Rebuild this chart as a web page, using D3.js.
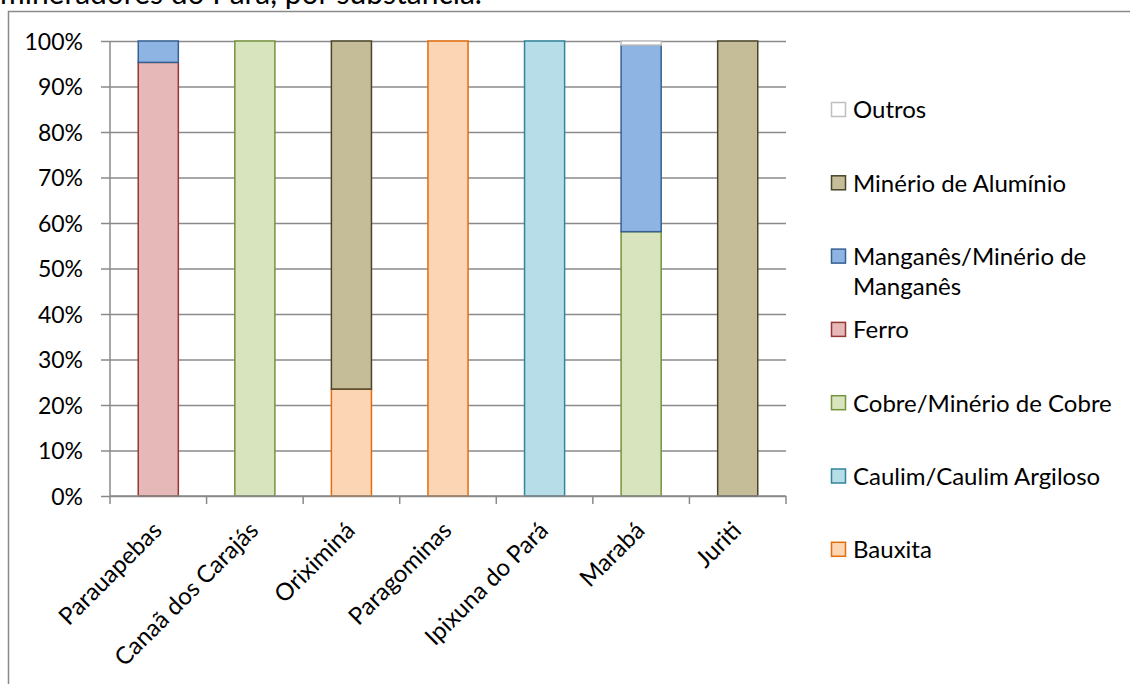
<!DOCTYPE html>
<html>
<head>
<meta charset="utf-8">
<script src="https://cdn.jsdelivr.net/npm/d3@7"></script>
<style>
  html, body { margin: 0; padding: 0; background: #ffffff; }
  svg { display: block; font-family: Lato, "Open Sans", sans-serif; }
</style>
</head>
<body>
<svg id="chart" width="1130" height="684"></svg>
<script>
// Municipalities (x categories)
const municipios = ["Parauapebas", "Canaã dos Carajás", "Oriximiná", "Paragominas", "Ipixuna do Pará", "Marabá", "Juriti"];

// Share of each substance per municipality (%), stacked bottom to top
const bauxita     = [0, 0, 23.5, 100, 0, 0, 0];
const caulim      = [0, 0, 0, 0, 100, 0, 0];
const cobre       = [0, 100, 0, 0, 0, 58.1, 0];
const ferro       = [95.3, 0, 0, 0, 0, 0, 0];
const manganes    = [4.7, 0, 0, 0, 0, 41.0, 0];
const aluminio    = [0, 0, 76.5, 0, 0, 0, 100];
const outros      = [0, 0, 0, 0, 0, 0.9, 0];

const seriesNames = ["Bauxita", "Caulim/Caulim Argiloso", "Cobre/Minério de Cobre", "Ferro",
                     "Manganês/Minério de Manganês", "Minério de Alumínio", "Outros"];
const seriesValues = [bauxita, caulim, cobre, ferro, manganes, aluminio, outros];

// Legend labels (line breaks where the legend wraps)
const legendLabels = [["Bauxita"], ["Caulim/Caulim Argiloso"], ["Cobre/Minério de Cobre"], ["Ferro"],
                      ["Manganês/Minério de", "Manganês"], ["Minério de Alumínio"], ["Outros"]];

const yTicks = [0, 0.1, 0.2, 0.3, 0.4, 0.5, 0.6, 0.7, 0.8, 0.9, 1.0];

const fills   = ["#FCD5B5", "#B7DEE8", "#D7E4BD", "#E6B9B8", "#8EB4E3", "#C4BD97", "#FFFFFF"];
const strokes = ["#E46C0A", "#31859C", "#77933C", "#953735", "#376092", "#4A452A", "#BFBFBF"];

const svg = d3.select("#chart");
const tickFont = 23;
const labelFont = 24;

// Build table rows for d3.stack
const rows = municipios.map((m, i) => {
  const r = { municipio: m };
  seriesNames.forEach((s, k) => { r[s] = seriesValues[k][i]; });
  return r;
});
const stacked = d3.stack().keys(seriesNames).offset(d3.stackOffsetExpand)(rows);

// Plot area
const plot = { left: 110, right: 786, top: 41, bottom: 496 };
const x = d3.scaleBand().domain(municipios).range([plot.left, plot.right]).paddingInner(0.585).paddingOuter(0.2925);
const y = d3.scaleLinear().domain([0, 1]).range([plot.bottom, plot.top]);

// Outer frame of the chart object
svg.append("rect")
  .attr("x", 8.5).attr("y", 11.5)
  .attr("width", 1200).attr("height", 800)
  .attr("fill", "none").attr("stroke", "#8a8a8a").attr("stroke-width", 1.5);

// Caption line above the frame (its first line lies above the page)
svg.append("text")
  .attr("x", 0).attr("y", 4)
  .attr("font-size", 30).attr("fill", "#000")
  .text("mineradores do Pará, por substância.");

// Horizontal gridlines and y axis
const yAxis = d3.axisLeft(y).tickValues(yTicks).tickFormat(d3.format(".0%")).tickSize(-(plot.right - plot.left)).tickSizeOuter(0);
const gy = svg.append("g").attr("transform", `translate(${plot.left},0)`).call(yAxis);
gy.select(".domain").remove();
gy.selectAll(".tick line").attr("stroke", "#8a8a8a").attr("stroke-width", 1.5).attr("x1", -9);
gy.selectAll(".tick text").attr("x", -27).attr("dy", "0.35em").attr("font-size", tickFont).attr("fill", "#000").attr("font-family", "Lato");

// Vertical axis line
svg.append("line")
  .attr("x1", plot.left).attr("x2", plot.left).attr("y1", plot.top).attr("y2", plot.bottom)
  .attr("stroke", "#8a8a8a").attr("stroke-width", 1.5);

// Bars
stacked.forEach((layer, k) => {
  svg.append("g").selectAll("rect")
    .data(layer.filter(d => d[1] - d[0] > 0))
    .join("rect")
    .attr("x", d => x(d.data.municipio))
    .attr("width", x.bandwidth())
    .attr("y", d => y(d[1]))
    .attr("height", d => y(d[0]) - y(d[1]))
    .attr("fill", fills[k])
    .attr("stroke", strokes[k])
    .attr("stroke-width", 1.5);
});

// Category axis: boundary ticks between bands
const step = x.step();
const boundaries = d3.range(municipios.length + 1).map(i => plot.left + i * step);
svg.append("line")
  .attr("x1", plot.left).attr("x2", plot.right).attr("y1", plot.bottom).attr("y2", plot.bottom)
  .attr("stroke", "#8a8a8a").attr("stroke-width", 1.5);
svg.append("g").selectAll("line")
  .data(boundaries)
  .join("line")
  .attr("x1", d => d).attr("x2", d => d)
  .attr("y1", plot.bottom).attr("y2", plot.bottom + 8)
  .attr("stroke", "#8a8a8a").attr("stroke-width", 1.5);

// Rotated category labels
svg.append("g").selectAll("text")
  .data(municipios)
  .join("text")
  .attr("transform", d => `translate(${x(d) + x.bandwidth() / 2 + 5},${plot.bottom + 36}) rotate(-45)`)
  .attr("text-anchor", "end")
  .attr("font-size", labelFont)
  .attr("fill", "#000")
  .text(d => d);

// Legend (reverse stacking order, top to bottom)
const legendTop = 110, legendStep = 73.3;
const legendOrder = d3.range(seriesNames.length).reverse();
legendOrder.forEach((k, i) => {
  const cy = legendTop + i * legendStep;
  const g = svg.append("g");
  g.append("rect")
    .attr("x", 831.5).attr("y", cy - 7.5)
    .attr("width", 14).attr("height", 14)
    .attr("fill", fills[k]).attr("stroke", strokes[k]).attr("stroke-width", 1.5);
  legendLabels[k].forEach((line, j) => {
    g.append("text")
      .attr("x", 853).attr("y", cy + j * 30)
      .attr("dy", "0.35em")
      .attr("font-size", labelFont)
      .attr("fill", "#000")
      .text(line);
  });
});
</script>
</body>
</html>
